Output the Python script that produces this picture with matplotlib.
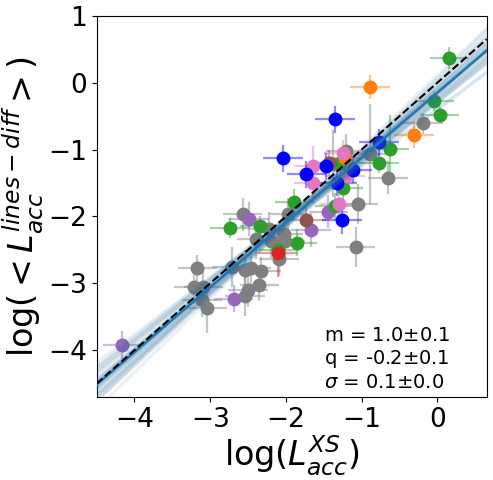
import numpy as np
import matplotlib
matplotlib.use("Agg")
import matplotlib.pyplot as plt

# points, one set of lists per colour
gray_x = [-3.17, -3.22, -3.09, -3.11, -3.04, -2.71, -2.54, -2.46, -2.33, -2.35, -2.50, -2.54,
          -2.57, -2.22, -2.39, -2.20, -2.03, -2.01, -2.09, -1.97, -1.08, -1.05, -1.38, -1.21,
          -0.89, -0.65, -0.19]
gray_y = [-2.77, -3.06, -3.05, -3.25, -3.37, -2.75, -2.80, -2.77, -2.81, -3.02, -3.10, -3.19,
          -1.97, -2.19, -2.34, -2.37, -2.27, -2.37, -2.64, -1.97, -2.46, -1.82, -1.21, -1.02,
          -1.07, -1.42, -0.61]
gray_yerr = [0.2, 0.25, 0.25, 0.25, 0.38, 0.3, 0.3, 0.25, 0.2, 0.25, 0.25, 0.3,
             0.25, 0.25, 0.3, 0.25, 0.25, 0.3, 0.25, 0.25, 0.3, 0.3, 0.5, 0.25,
             0.75, 0.25, 0.15]

green_x = [0.16, -0.04, 0.03, -0.63, -0.77, -1.29, -1.24, -1.89, -1.35, -2.74, -2.34, -1.85, -2.10]
green_y = [0.37, -0.28, -0.49, -0.99, -1.20, -1.20, -1.57, -1.79, -1.85, -2.17, -2.15, -2.39, -2.50]
green_yerr = [0.17, 0.15, 0.12, 0.5, 0.15, 0.2, 0.2, 0.2, 0.2, 0.15, 0.15, 0.2, 0.2]

orange_x = [-0.89, -0.31, -1.22]
orange_y = [-0.06, -0.78, -1.13]
orange_yerr = [0.18, 0.2, 0.2]

blue_x = [-1.35, -2.04, -1.73, -1.47, -1.12, -1.32, -0.77, -1.26]
blue_y = [-0.55, -1.13, -1.37, -1.25, -1.30, -1.50, -0.89, -2.06]
blue_yerr = [0.2, 0.2, 0.2, 0.2, 0.2, 0.2, 0.2, 0.2]

pink_x = [-1.64, -1.64, -1.24, -1.21, -1.30]
pink_y = [-1.24, -1.50, -1.05, -1.39, -1.82]
pink_yerr = [0.3, 0.3, 0.2, 0.2, 0.2]

purple_x = [-4.16, -2.49, -2.69, -1.44, -1.67]
purple_y = [-3.92, -2.04, -3.23, -1.93, -2.20]
purple_yerr = [0.21, 0.25, 0.2, 0.25, 0.25]

brown_x = [-1.73, -1.43]
brown_y = [-2.06, -1.20]
brown_yerr = [0.2, 0.2]

red_x = [-2.11]
red_y = [-2.55]
red_yerr = [0.35]

xerr_all = 0.26

# fit and posterior draws
m_fit = 0.97
q_fit = -0.15
m_samples = [0.97, 0.92, 1.02, 0.88, 1.06, 0.95, 0.99, 0.90, 1.04, 0.93, 1.00, 0.86, 1.08, 0.96, 0.98,
             0.91, 1.03, 0.94, 1.01, 0.89, 1.05, 0.97, 0.95, 0.99, 0.84, 1.10, 0.93, 1.02, 0.96, 0.98]
q_samples = [-0.13, -0.29, 0.00, -0.30, 0.01, -0.13, -0.17, -0.29, -0.06, -0.15, -0.08, -0.40, 0.11, -0.25, -0.09,
             -0.22, -0.04, -0.23, -0.14, -0.24, 0.04, -0.18, -0.19, -0.08, -0.40, 0.07, -0.28, -0.08, -0.14, -0.14]

groups = [
    (gray_x, gray_y, gray_yerr, "tab:gray"),
    (purple_x, purple_y, purple_yerr, "tab:purple"),
    (green_x, green_y, green_yerr, "tab:green"),
    (red_x, red_y, red_yerr, "tab:red"),
    (brown_x, brown_y, brown_yerr, "tab:brown"),
    (orange_x, orange_y, orange_yerr, "tab:orange"),
    (pink_x, pink_y, pink_yerr, "tab:pink"),
    (blue_x, blue_y, blue_yerr, "blue"),
]

fig = plt.figure(figsize=(4.93, 4.8), dpi=100)
ax = fig.add_axes([0.196, 0.173, 0.791, 0.794])

for gx, gy, gyerr, col in groups:
    ax.errorbar(gx, gy, xerr=xerr_all, yerr=gyerr, fmt="none", ecolor=col, alpha=0.45, elinewidth=1.6, zorder=1)
for gx, gy, gyerr, col in groups:
    ax.plot(gx, gy, "o", color=col, ms=9, zorder=2)

xx = np.array([-4.5, 0.65])
for m, q in zip(m_samples, q_samples):
    ax.plot(xx, m * xx + q, color="#2f6e9c", alpha=0.09, lw=2.5, zorder=3)
ax.plot(xx, m_fit * xx + q_fit, color="tab:blue", lw=1.8, zorder=4)
ax.plot(xx, xx, "k--", lw=1.5, zorder=5)

ax.text(-1.5, -4.63, "m = 1.0$\\pm$0.1\nq = -0.2$\\pm$0.1\n$\\sigma$ = 0.1$\\pm$0.0", fontsize=14, va="bottom", ha="left")

ax.set_xlim(-4.5, 0.65)
ax.set_ylim(-4.7, 1)
ax.set_xticks([-4, -3, -2, -1, 0])
ax.set_yticks([-4, -3, -2, -1, 0, 1])
ax.tick_params(labelsize=19)
ax.set_xlabel("log($L_{acc}^{XS}$)", fontsize=24, labelpad=1)
ax.set_ylabel("log($<L_{acc}^{lines-diff}>$)", fontsize=24, labelpad=2)

fig.savefig("out.png", dpi=100)
